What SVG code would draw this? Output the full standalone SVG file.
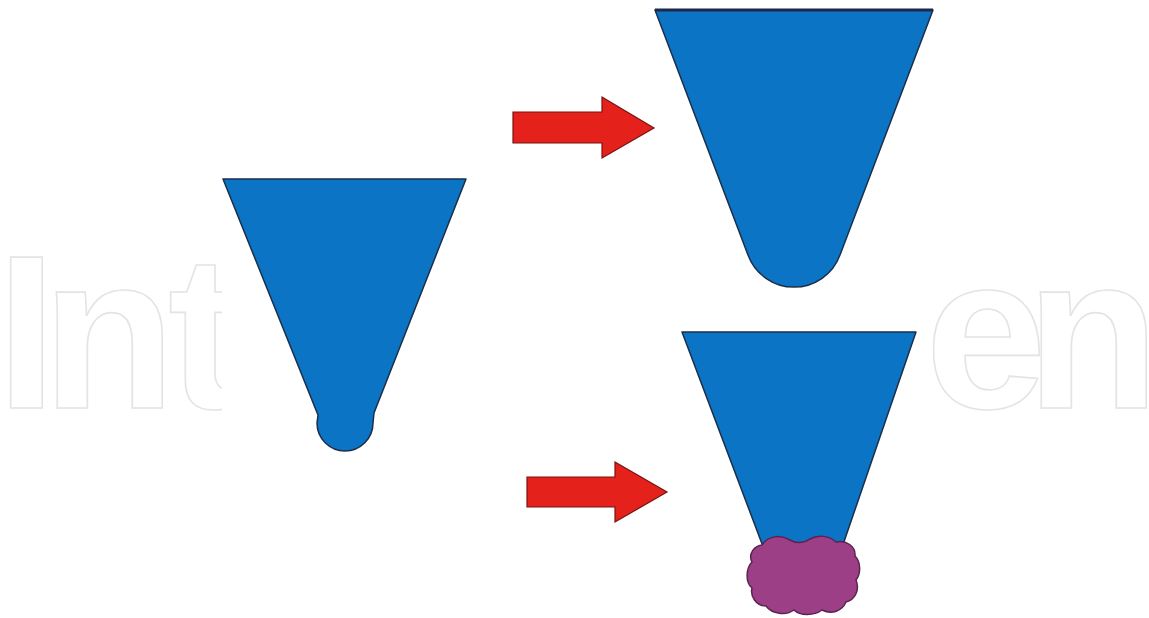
<svg xmlns="http://www.w3.org/2000/svg" width="1149" height="618" viewBox="0 0 1149 618">
  <style>
    .wm { font-family: "Liberation Sans", Arial, sans-serif; font-weight: bold; font-size: 219px; fill: none; stroke: #e4e4e4; stroke-width: 1.6; }
    .funnel { fill: #0b74c4; stroke: #1c2f4a; stroke-width: 1.5; stroke-linejoin: round; }
    .arrow { fill: #e5211b; stroke: #7a1212; stroke-width: 1.2; stroke-linejoin: miter; }
    .blob { fill: #9c3f86; stroke: #5c2250; stroke-width: 1.5; stroke-linejoin: round; }
  </style>
  <rect width="1149" height="618" fill="#ffffff"/>
  <g id="watermark">
    <text class="wm" x="-4 42 168" y="408">Int</text>
    <text class="wm" x="925 1026" y="408">en</text>
    <rect x="222" y="0" width="711" height="618" fill="#ffffff"/>
  </g>
  <g id="funnel-left">
    <path class="funnel" d="M223,179 H466 L374,413 L373,423 A28,28 0 0 1 317,423 L318,415 Z"/>
  </g>
  <g id="funnel-top-right">
    <path class="funnel" d="M655,10 H933 L840,255 A49,49 0 0 1 748,255 Z"/>
    <line x1="655" y1="10" x2="933" y2="10" stroke="#1a2a48" stroke-width="3"/>
  </g>
  <g id="funnel-bottom-right">
    <path class="funnel" d="M682,332 H916 L836,565 H770 Z"/>
  </g>
  <g id="blob">
    <path class="blob" d="M762,545 C768,536 780,534 790,540 C797,544 804,543 810,539 C818,534 830,536 836,542 C846,540 856,546 855,556 C861,562 861,574 856,580 C860,590 855,600 846,602 C842,611 832,615 822,610 C814,616 800,616 794,610 C786,616 772,614 766,606 C756,606 750,596 752,588 C745,582 746,568 752,562 C748,554 754,546 762,545 Z"/>
  </g>
  <g id="connectors">
    <path class="arrow" d="M513,112 H602 V97 L654,128 L602,158 V143 H513 Z"/>
    <path class="arrow" d="M527,477 H615 V462 L667,492 L615,522 V507 H527 Z"/>
  </g>
</svg>
